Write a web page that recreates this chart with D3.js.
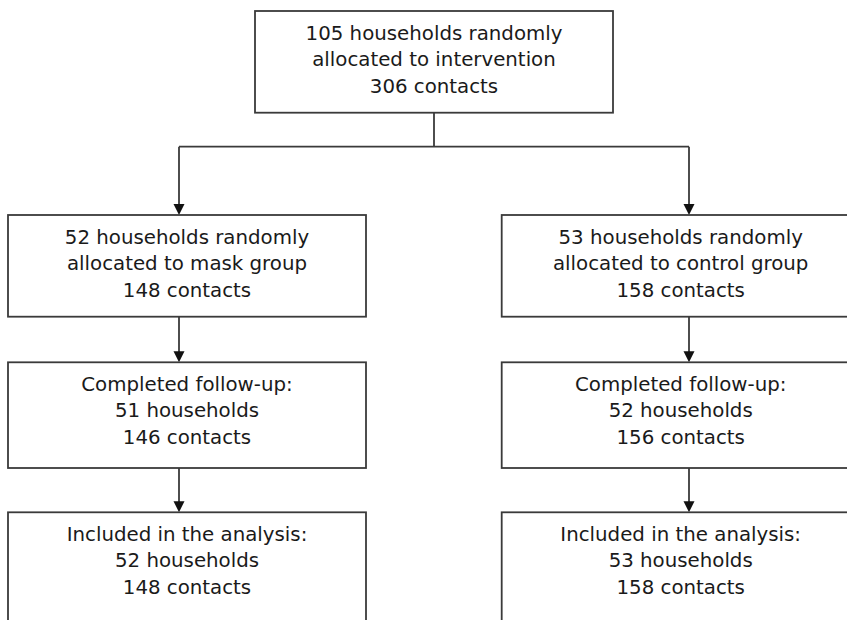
<!DOCTYPE html>
<html>
<head>
<meta charset="utf-8">
<script src="https://cdn.jsdelivr.net/npm/d3@7"></script>
<style>
  html, body { margin: 0; padding: 0; background: #fff; overflow: hidden; }
  svg { display: block; }
  text { font-family: "DejaVu Sans", Verdana, sans-serif; fill: #1a1a1a; }
</style>
</head>
<body>
<svg id="chart" width="847" height="620"></svg>
<script>
// ---- data ----
const totalHouseholds = 105;
const totalContacts = 306;
const groups = ["mask", "control"];
const allocHouseholds = [52, 53];
const allocContacts = [148, 158];
const followHouseholds = [51, 52];
const followContacts = [146, 156];
const analysisHouseholds = [52, 53];
const analysisContacts = [148, 158];

// ---- layout ----
const svg = d3.select("#chart");
const boxW = 358;
const lineGap = 26.5;
const baseOff = 28.6;
const stroke = "#3a3a3a";
const sw = 1.8;

const colX = d3.scaleOrdinal().domain(groups).range([8, 501.7]);
const arrowX = d3.scaleOrdinal().domain(groups).range([179, 689]);
const rowY = d3.scaleOrdinal().domain([0, 1, 2]).range([215, 362.3, 512.3]);
const rowH = d3.scaleOrdinal().domain([0, 1, 2]).range([101.7, 105.7, 140]);

const topBox = { x: 255, y: 11, h: 101.7,
  lines: [totalHouseholds + " households randomly", "allocated to intervention", totalContacts + " contacts"] };

const boxes = [];
groups.forEach((g, i) => {
  boxes.push({ g, row: 0, lines: [allocHouseholds[i] + " households randomly",
    "allocated to " + g + " group", allocContacts[i] + " contacts"] });
  boxes.push({ g, row: 1, lines: ["Completed follow-up:",
    followHouseholds[i] + " households", followContacts[i] + " contacts"] });
  boxes.push({ g, row: 2, lines: ["Included in the analysis:",
    analysisHouseholds[i] + " households", analysisContacts[i] + " contacts"] });
});

function drawBox(x, y, h, lines) {
  const gEl = svg.append("g");
  gEl.append("rect").attr("x", x).attr("y", y).attr("width", boxW).attr("height", h)
    .attr("fill", "#fff").attr("stroke", stroke).attr("stroke-width", sw);
  gEl.selectAll("text").data(lines).join("text")
    .attr("x", x + boxW / 2)
    .attr("y", (d, i) => y + baseOff + i * lineGap)
    .attr("text-anchor", "middle")
    .attr("font-size", "19.8px")
    .text(d => d);
}

function arrow(x, y1, y2) {
  const ah = 11, aw = 5.5;
  svg.append("line").attr("x1", x).attr("x2", x).attr("y1", y1).attr("y2", y2 - ah + 1)
    .attr("stroke", stroke).attr("stroke-width", sw);
  svg.append("path").attr("d", d3.line()([[x - aw, y2 - ah], [x + aw, y2 - ah], [x, y2]]) + "Z")
    .attr("fill", "#111");
}

// connectors
const splitY = 146.7;
svg.append("line").attr("x1", 434).attr("x2", 434).attr("y1", topBox.y + topBox.h).attr("y2", splitY)
  .attr("stroke", stroke).attr("stroke-width", sw);
svg.append("line").attr("x1", arrowX(groups[0])).attr("x2", arrowX(groups[1]))
  .attr("y1", splitY).attr("y2", splitY).attr("stroke", stroke).attr("stroke-width", sw);
groups.forEach(g => {
  arrow(arrowX(g), splitY, rowY(0));
  arrow(arrowX(g), rowY(0) + rowH(0), rowY(1));
  arrow(arrowX(g), rowY(1) + rowH(1), rowY(2));
});

// boxes
drawBox(topBox.x, topBox.y, topBox.h, topBox.lines);
boxes.forEach(b => drawBox(colX(b.g), rowY(b.row), rowH(b.row), b.lines));
</script>
</body>
</html>
